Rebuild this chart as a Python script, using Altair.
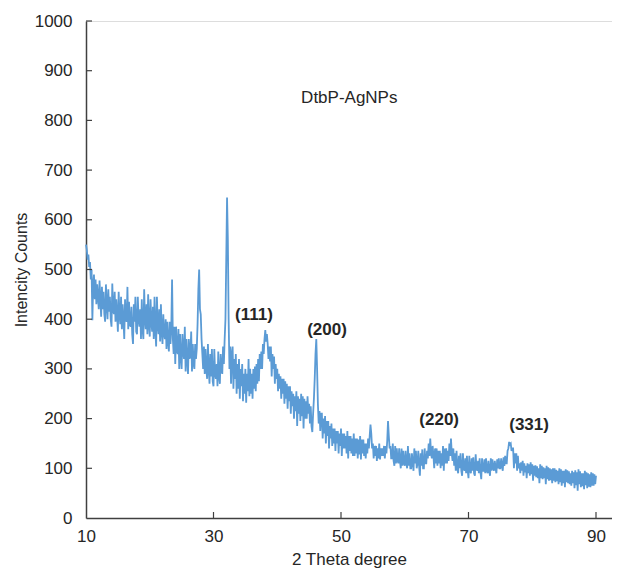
import altair as alt
import pandas as pd

# 2-theta grid: 10 .. 90 in 0.125 degree steps (8 readings per degree)
theta_start = 10.0
theta_step = 0.125

# Intensity readings (counts), 8 per degree
intensity = [
    550, 540, 520, 530, 505, 515, 480, 500,   # 10
    398, 470, 490, 440, 480, 430, 470, 445,   # 11
    420, 478, 440, 405, 465, 420, 455, 410,   # 12
    395, 470, 430, 400, 460, 415, 445, 400,   # 13
    385, 472, 420, 410, 455, 395, 440, 410,   # 14
    375, 455, 410, 390, 445, 380, 430, 400,   # 15
    360, 440, 400, 395, 465, 380, 435, 390,   # 16
    385, 425, 370, 350, 430, 395, 445, 375,   # 17
    370, 445, 400, 385, 420, 360, 440, 380,   # 18
    360, 460, 400, 380, 430, 370, 450, 390,   # 19
    365, 440, 395, 375, 425, 360, 445, 380,   # 20
    345, 445, 390, 370, 420, 355, 430, 375,   # 21
    350, 410, 370, 360, 400, 340, 395, 355,   # 22
    335, 395, 350, 380, 480, 360, 330, 385,   # 23
    310, 385, 340, 330, 380, 300, 370, 325,   # 24
    300, 370, 335, 320, 385, 295, 360, 320,   # 25
    290, 360, 320, 330, 375, 295, 350, 310,   # 26
    300, 350, 320, 340, 390, 460, 500, 420,   # 27
    410, 360, 330, 300, 345, 290, 340, 300,   # 28
    280, 350, 300, 270, 330, 285, 340, 275,   # 29
    265, 340, 290, 280, 310, 265, 335, 285,   # 30
    270, 330, 300, 290, 345, 310, 360, 400,   # 31
    520, 645, 560, 400, 300, 345, 270, 330,   # 32
    345, 260, 320, 280, 330, 250, 310, 260,   # 33
    320, 240, 300, 265, 310, 235, 290, 250,   # 34
    300, 232, 290, 255, 320, 245, 300, 250,   # 35
    290, 240, 300, 260, 305, 255, 310, 270,   # 36
    320, 275, 330, 300, 335, 300, 350, 330,   # 37
    360, 378, 355, 370, 350, 320, 345, 315,   # 38
    345, 285, 330, 300, 325, 270, 310, 280,   # 39
    300, 255, 290, 260, 285, 240, 280, 250,   # 40
    280, 230, 275, 240, 270, 220, 265, 235,   # 41
    265, 210, 255, 225, 250, 200, 245, 215,   # 42
    255, 185, 245, 210, 240, 195, 250, 205,   # 43
    245, 180, 240, 200, 235, 200, 245, 210,   # 44
    230, 190, 225, 185, 173, 210, 240, 280,   # 45
    330, 360, 300, 230, 190, 215, 175, 210,   # 46
    210, 160, 200, 170, 205, 150, 195, 165,   # 47
    195, 140, 185, 160, 190, 145, 180, 150,   # 48
    180, 135, 175, 150, 175, 130, 170, 145,   # 49
    180, 125, 170, 140, 170, 140, 165, 130,   # 50
    175, 120, 165, 135, 165, 130, 160, 125,   # 51
    170, 125, 160, 130, 160, 120, 158, 128,   # 52
    165, 118, 158, 130, 158, 125, 150, 120,   # 53
    150, 130, 160, 140, 165, 188, 170, 140,   # 54
    150, 120, 145, 125, 145, 115, 140, 120,   # 55
    150, 118, 140, 125, 140, 125, 145, 120,   # 56
    145, 130, 155, 195, 165, 140, 145, 120,   # 57
    120, 150, 115, 105, 145, 110, 140, 115,   # 58
    110, 140, 115, 100, 140, 105, 135, 110,   # 59
    105, 135, 110, 100, 145, 105, 130, 100,   # 60
    100, 130, 110, 95, 140, 110, 135, 100,    # 61
    110, 135, 105, 85, 130, 105, 138, 100,    # 62
    100, 140, 110, 110, 135, 120, 150, 125,   # 63
    160, 130, 120, 145, 125, 100, 140, 110,   # 64
    140, 105, 135, 110, 135, 100, 130, 105,   # 65
    145, 95, 140, 110, 140, 110, 135, 115,    # 66
    150, 125, 160, 130, 115, 140, 105, 130,   # 67
    95, 135, 100, 90, 125, 100, 130, 95,      # 68
    85, 130, 100, 95, 120, 90, 125, 95,       # 69
    80, 125, 95, 90, 120, 95, 122, 90,        # 70
    85, 128, 100, 95, 115, 90, 120, 92,       # 71
    78, 120, 95, 95, 118, 90, 120, 95,        # 72
    90, 115, 95, 85, 120, 95, 118, 100,       # 73
    95, 115, 100, 90, 118, 100, 120, 100,     # 74
    100, 120, 105, 95, 122, 105, 125, 110,    # 75
    110, 135, 140, 153, 148, 150, 135, 140,   # 76
    140, 100, 130, 110, 130, 95, 125, 100,    # 77
    110, 90, 112, 95, 115, 85, 110, 92,       # 78
    105, 80, 110, 90, 108, 85, 112, 88,       # 79
    108, 75, 105, 85, 106, 82, 104, 80,       # 80
    100, 70, 108, 80, 105, 78, 102, 80,       # 81
    100, 68, 105, 78, 102, 75, 100, 76,       # 82
    98, 70, 100, 75, 100, 72, 97, 74,         # 83
    95, 68, 100, 72, 98, 65, 95, 70,          # 84
    95, 62, 98, 72, 96, 70, 94, 68,           # 85
    90, 65, 95, 70, 92, 60, 96, 66,           # 86
    92, 55, 98, 68, 94, 62, 90, 64,           # 87
    90, 58, 95, 66, 92, 60, 90, 63,           # 88
    88, 62, 92, 65, 90, 65, 88, 68,           # 89
    85,                                       # 90
]

x_ticks = [10, 30, 50, 70, 90]
y_ticks = [0, 100, 200, 300, 400, 500, 600, 700, 800, 900, 1000]

peak_labels = ["(111)", "(200)", "(220)", "(331)"]
peak_x = [36.35, 47.8, 65.4, 79.5]
peak_y = [409, 378, 197, 188]

sample_label = ["DtbP-AgNPs"]
sample_x = [51.3]
sample_y = [845]

W, H = 526, 497
X_MAX = 10 + W / 6.375
FONT = "Liberation Sans"
LINE = "#5B9BD5"
AXIS = "#404040"
TEXT = "#262626"

df = pd.DataFrame({
    "theta": [theta_start + i * theta_step for i in range(len(intensity))],
    "counts": intensity,
})

xscale = alt.Scale(domain=[10, X_MAX], nice=False, zero=False)
yscale = alt.Scale(domain=[0, 1000], nice=False)

line = alt.Chart(df).mark_line(color=LINE, strokeWidth=1.8).encode(
    x=alt.X("theta:Q", scale=xscale,
            axis=alt.Axis(values=x_ticks, title="2 Theta degree", ticks=False,
                          labelPadding=10, titlePadding=7, grid=False, labelFlush=False,
                          labelFontSize=17, titleFontSize=17, titleFontWeight="normal",
                          labelColor=TEXT, titleColor=TEXT, labelFont=FONT, titleFont=FONT,
                          domainColor=AXIS, domainWidth=1.5)),
    y=alt.Y("counts:Q", scale=yscale,
            axis=alt.Axis(values=y_ticks, title="Intencity  Counts", ticks=False, format="d",
                          labelPadding=14, titlePadding=5, grid=False,
                          labelFontSize=17, titleFontSize=16, titleFontWeight="normal",
                          labelColor=TEXT, titleColor=TEXT, labelFont=FONT, titleFont=FONT,
                          domainColor=AXIS, domainWidth=1.5)),
)

ytick_marks = alt.Chart(pd.DataFrame({"v": y_ticks[1:]})).mark_rule(color=AXIS, strokeWidth=1.2).encode(
    y=alt.Y("v:Q", scale=yscale), x=alt.value(0), x2=alt.value(6)
)
xtick_marks = alt.Chart(pd.DataFrame({"v": x_ticks[1:]})).mark_rule(color=AXIS, strokeWidth=1.2).encode(
    x=alt.X("v:Q", scale=xscale), y=alt.value(H), y2=alt.value(H - 6)
)

peaks = alt.Chart(pd.DataFrame({"t": peak_labels, "x": peak_x, "y": peak_y})).mark_text(
    font=FONT, fontSize=17, fontWeight="bold", color=TEXT
).encode(x=alt.X("x:Q", scale=xscale), y=alt.Y("y:Q", scale=yscale), text="t:N")

sample = alt.Chart(pd.DataFrame({"t": sample_label, "x": sample_x, "y": sample_y})).mark_text(
    font=FONT, fontSize=17, color=TEXT
).encode(x=alt.X("x:Q", scale=xscale), y=alt.Y("y:Q", scale=yscale), text="t:N")

chart = alt.layer(line, ytick_marks, xtick_marks, peaks, sample).properties(
    width=W, height=H,
    autosize=alt.AutoSizeParams(type="none"),
    padding={"left": 78, "top": 13, "right": 0, "bottom": 52},
).configure_view(stroke=None).configure(background="white")

chart.save("out.html", embed_options={"renderer": "svg", "actions": False})
